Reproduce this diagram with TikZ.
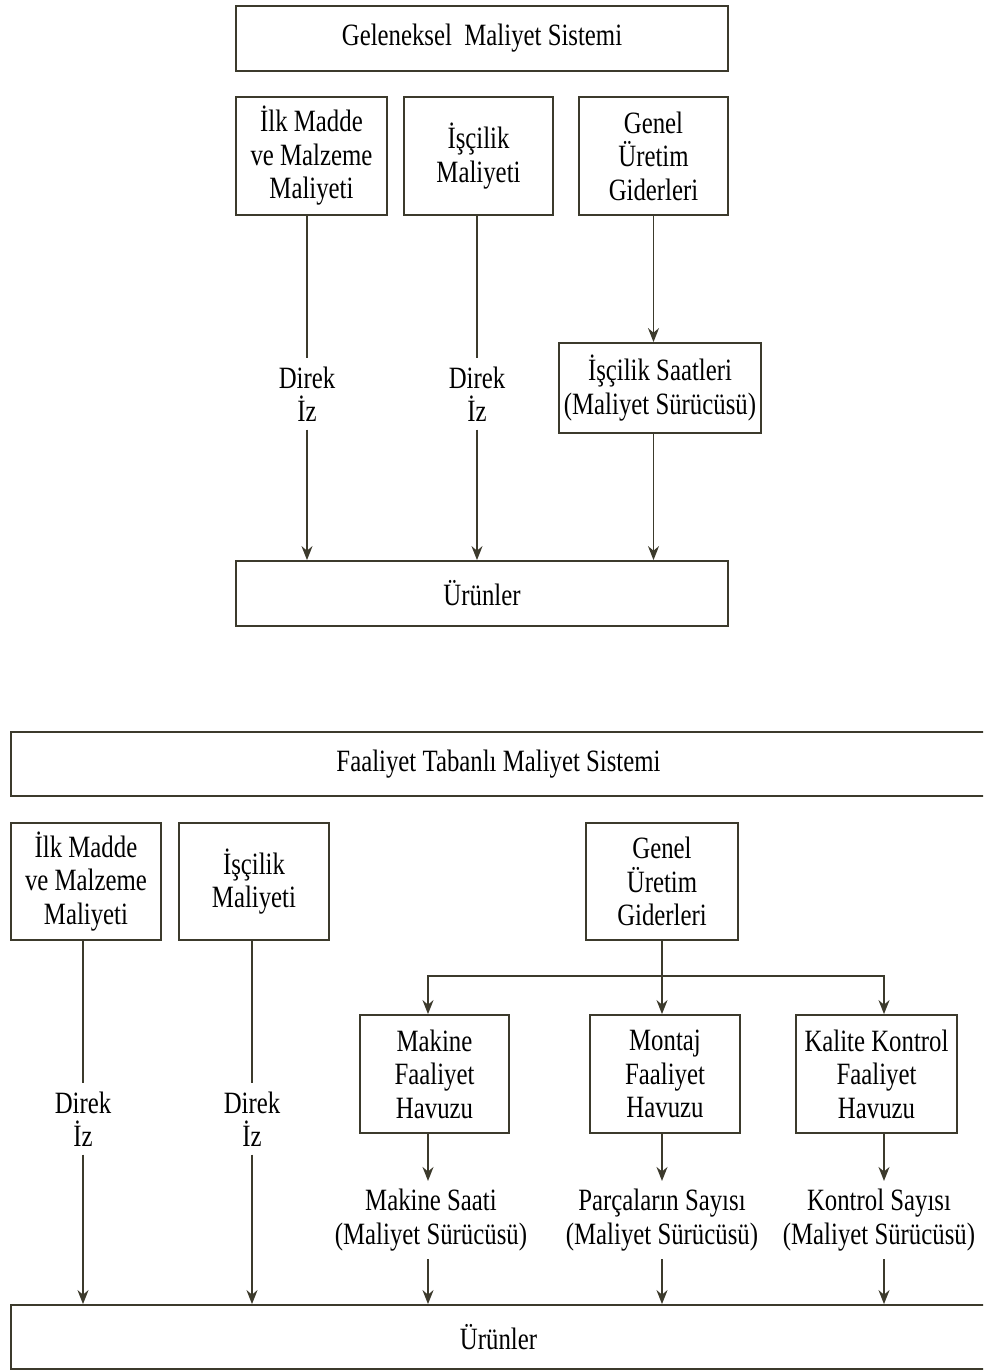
\documentclass[tikz,border=0pt]{standalone}
\usepackage{fontspec}
\setmainfont{Liberation Serif}[FakeStretch=0.8]
\usetikzlibrary{arrows.meta}
\definecolor{ink}{HTML}{3C3A2C}
\begin{document}
\begin{tikzpicture}[x=1pt,y=-1pt,
  every node/.style={font=\fontsize{31}{33.5}\selectfont, align=center, inner sep=0pt},
  box/.style={draw=ink, line width=1.8pt, rectangle},
  lbl/.style={inner sep=8pt},
  conn/.style={draw=ink, line width=1.6pt},
  arr/.style={conn, -{Stealth[length=14pt,width=11pt]}}]
\useasboundingbox (0,0) rectangle (983,1372);
\clip (0,0) rectangle (983,1372);

% ---------- Geleneksel Maliyet Sistemi ----------
\node[box, minimum width=492, minimum height=65] (gms) at (482,38.5) {\raisebox{-4pt}{Geleneksel\ \ Maliyet Sistemi}};
\node[box, minimum width=151, minimum height=118] (gmad) at (311.5,156) {İlk Madde\\ve Malzeme\\Maliyeti};
\node[box, minimum width=149, minimum height=118] (gisc) at (478.5,156) {İşçilik\\Maliyeti};
\node[box, minimum width=149, minimum height=118] (ggen) at (653.5,156) {Genel\\Üretim\\Giderleri};
\node[lbl] (gd1) at (307,394) {Direk\\İz};
\node[lbl] (gd2) at (477,394) {Direk\\İz};
\node[box, minimum width=202, minimum height=90] (gsaat) at (660,388) {İşçilik Saatleri\\(Maliyet Sürücüsü)};
\node[box, minimum width=492, minimum height=65] (gur) at (482,593.5) {\raisebox{-3pt}{Ürünler}};

\draw[conn] (gd1.north |- gmad.south) -- (gd1.north);
\draw[arr] (gd1.south) -- (gd1.south |- gur.north);
\draw[conn] (gd2.north |- gisc.south) -- (gd2.north);
\draw[arr] (gd2.south) -- (gd2.south |- gur.north);
\draw[arr] (ggen.south) -- (ggen.south |- gsaat.north);
\draw[arr] (ggen.south |- gsaat.south) -- (ggen.south |- gur.north);

% ---------- Faaliyet Tabanli Maliyet Sistemi ----------
\node[box, minimum width=975, minimum height=64] (fms) at (498.5,764) {Faaliyet Tabanlı Maliyet Sistemi};
\node[box, minimum width=150, minimum height=117] (fmad) at (86,881.5) {İlk Madde\\ve Malzeme\\Maliyeti};
\node[box, minimum width=150, minimum height=117] (fisc) at (254,881.5) {İşçilik\\Maliyeti};
\node[box, minimum width=152, minimum height=117] (fgen) at (662,881.5) {Genel\\Üretim\\Giderleri};
\coordinate (split) at (662,976);

\node[box, minimum width=149, minimum height=118] (pmak) at (434.5,1074) {Makine\\Faaliyet\\Havuzu};
\node[box, minimum width=150, minimum height=118] (pmon) at (665,1074) {Montaj\\Faaliyet\\Havuzu};
\node[box, minimum width=161, minimum height=118] (pkal) at (876.5,1074) {Kalite Kontrol\\Faaliyet\\Havuzu};

\node[lbl] (fd1) at (83,1119) {Direk\\İz};
\node[lbl] (fd2) at (252,1119) {Direk\\İz};
\node[lbl] (smak) at (431,1220) {Makine Saati\\(Maliyet Sürücüsü)};
\node[lbl] (smon) at (662,1220) {Parçaların Sayısı\\(Maliyet Sürücüsü)};
\node[lbl] (skal) at (879,1220) {Kontrol Sayısı\\(Maliyet Sürücüsü)};

\node[box, minimum width=975, minimum height=64] (fur) at (498.5,1337) {\raisebox{-3pt}{Ürünler}};

\draw[conn] (fd1.north |- fmad.south) -- (fd1.north);
\draw[arr] (fd1.south) -- (fd1.south |- fur.north);
\draw[conn] (fd2.north |- fisc.south) -- (fd2.north);
\draw[arr] (fd2.south) -- (fd2.south |- fur.north);

\coordinate (tmak) at (428,976);
\coordinate (tkal) at (884,976);
\draw[conn] (fgen.south) -- (split);
\draw[arr] (split) -- (tmak) -- (tmak |- pmak.north);
\draw[arr] (split) -- (split |- pmon.north);
\draw[arr] (split) -- (tkal) -- (tkal |- pkal.north);

\draw[arr] (tmak |- pmak.south) -- (tmak |- smak.north);
\draw[arr] (split |- pmon.south) -- (split |- smon.north);
\draw[arr] (tkal |- pkal.south) -- (tkal |- skal.north);
\draw[arr] (tmak |- smak.south) -- (tmak |- fur.north);
\draw[arr] (split |- smon.south) -- (split |- fur.north);
\draw[arr] (tkal |- skal.south) -- (tkal |- fur.north);
\end{tikzpicture}
\end{document}
